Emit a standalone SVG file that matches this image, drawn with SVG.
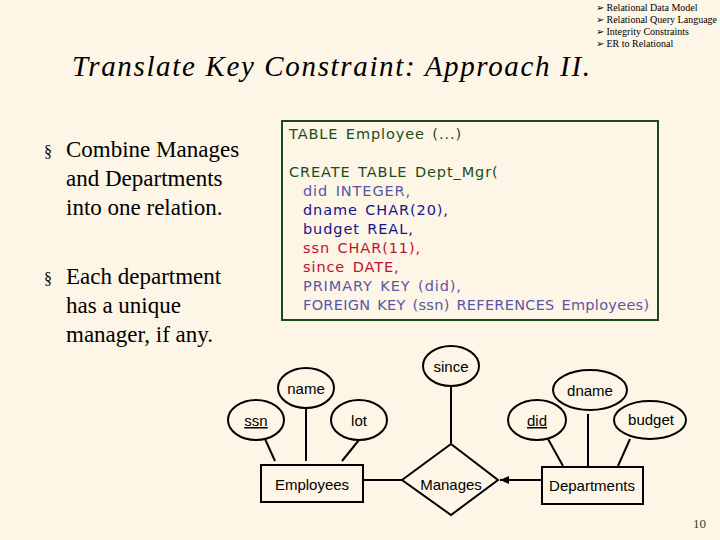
<svg xmlns="http://www.w3.org/2000/svg" width="720" height="540" viewBox="0 0 720 540">
<style>
.e{fill:none;stroke:#000;stroke-width:2}
.l{stroke:#000;stroke-width:2;fill:none}
.t{font-family:"Liberation Sans",Arial,sans-serif;font-size:15px;fill:#000;text-anchor:middle}
.s{font-family:"Liberation Serif","Times New Roman",serif}
.c{font-family:"DejaVu Sans",sans-serif;font-size:14.5px;letter-spacing:0.9px;word-spacing:2px}
.g{fill:#1a4d1a}.b1{fill:#5858a8}.b2{fill:#14148a}.r{fill:#c01030}
</style>
<defs><marker id="a" markerWidth="10" markerHeight="10" refX="9" refY="5" orient="auto" markerUnits="userSpaceOnUse"><path d="M0,1 L9,5 L0,9 Z" fill="#000"/></marker></defs>
<rect width="720" height="540" fill="#fdf5e6"/>
<g id="nav" class="s" font-size="10" fill="#000">
<text x="596" y="11">➢ Relational Data Model</text>
<text x="596" y="23">➢ Relational Query Language</text>
<text x="596" y="35">➢ Integrity Constraints</text>
<text x="596" y="47">➢ ER to Relational</text>
</g>
<text x="72" y="76" class="s" font-size="29" font-style="italic" textLength="518">Translate Key Constraint:  Approach II.</text>
<g id="bullets" class="s" font-size="23" fill="#000">
<text x="44" y="157" font-size="16">§</text><text x="66" y="157">Combine Manages</text>
<text x="66" y="186">and Departments</text><text x="66" y="215">into one relation.</text>
<text x="44" y="284" font-size="16">§</text><text x="66" y="284">Each department</text>
<text x="66" y="313">has a unique</text><text x="66" y="342">manager, if any.</text>
</g>
<g id="sql">
<rect x="282" y="121" width="376" height="199" fill="none" stroke="#1a4d1a" stroke-width="2"/>
<g class="c">
<text x="289" y="139" class="g">TABLE Employee (...)</text>
<text x="289" y="177" class="g">CREATE TABLE  Dept_Mgr(</text>
<text x="303" y="196" class="b1">did  INTEGER,</text>
<text x="303" y="215" class="b2">dname  CHAR(20),</text>
<text x="303" y="234" class="b2">budget  REAL,</text>
<text x="303" y="253" class="r">ssn  CHAR(11),</text>
<text x="303" y="272" class="r">since  DATE,</text>
<text x="303" y="291" class="b1">PRIMARY KEY  (did),</text>
<text x="303" y="310" class="b1" textLength="347">FOREIGN KEY (ssn) REFERENCES Employees)</text>
</g></g>
<g id="connectors">
<line class="l" x1="265" y1="439" x2="275" y2="461"/>
<line class="l" x1="306" y1="408" x2="306" y2="461"/>
<line class="l" x1="359" y1="440" x2="342" y2="461"/>
<line class="l" x1="451" y1="387" x2="451" y2="443"/>
<line class="l" x1="363" y1="480" x2="402" y2="480"/>
<line class="l" x1="542" y1="480" x2="500" y2="480" marker-end="url(#a)"/>
<line class="l" x1="548" y1="439" x2="563" y2="466"/>
<line class="l" x1="588" y1="414" x2="588" y2="466"/>
<line class="l" x1="630" y1="439" x2="618" y2="466"/>
</g>
<g id="since"><ellipse class="e" cx="451" cy="366" rx="28" ry="20"/><text class="t" x="451" y="372">since</text></g>
<g id="name"><ellipse class="e" cx="306" cy="388" rx="28" ry="20"/><text class="t" x="306" y="394">name</text></g>
<g id="ssn"><ellipse class="e" cx="256" cy="420" rx="28" ry="20"/><text class="t" x="256" y="426" text-decoration="underline">ssn</text></g>
<g id="lot"><ellipse class="e" cx="359" cy="420" rx="28" ry="20"/><text class="t" x="359" y="426">lot</text></g>
<g id="dname"><ellipse class="e" cx="590" cy="390" rx="37" ry="20"/><text class="t" x="590" y="396">dname</text></g>
<g id="did"><ellipse class="e" cx="537" cy="420" rx="29" ry="20"/><text class="t" x="537" y="426" text-decoration="underline">did</text></g>
<g id="budget"><ellipse class="e" cx="650" cy="420" rx="36" ry="19"/><text class="t" x="651" y="425">budget</text></g>
<g id="employees"><rect class="e" x="261" y="465" width="102" height="37"/><text class="t" x="312" y="490">Employees</text></g>
<g id="manages"><path class="e" d="M402,480 L451,444 L498,480 L451,515 Z"/><text class="t" x="451" y="490">Manages</text></g>
<g id="departments"><rect class="e" x="542" y="467" width="101" height="37"/><text class="t" x="592" y="491">Departments</text></g>
<text x="706" y="528" class="s" font-size="13" fill="#1a4d1a" text-anchor="end">10</text>
</svg>
